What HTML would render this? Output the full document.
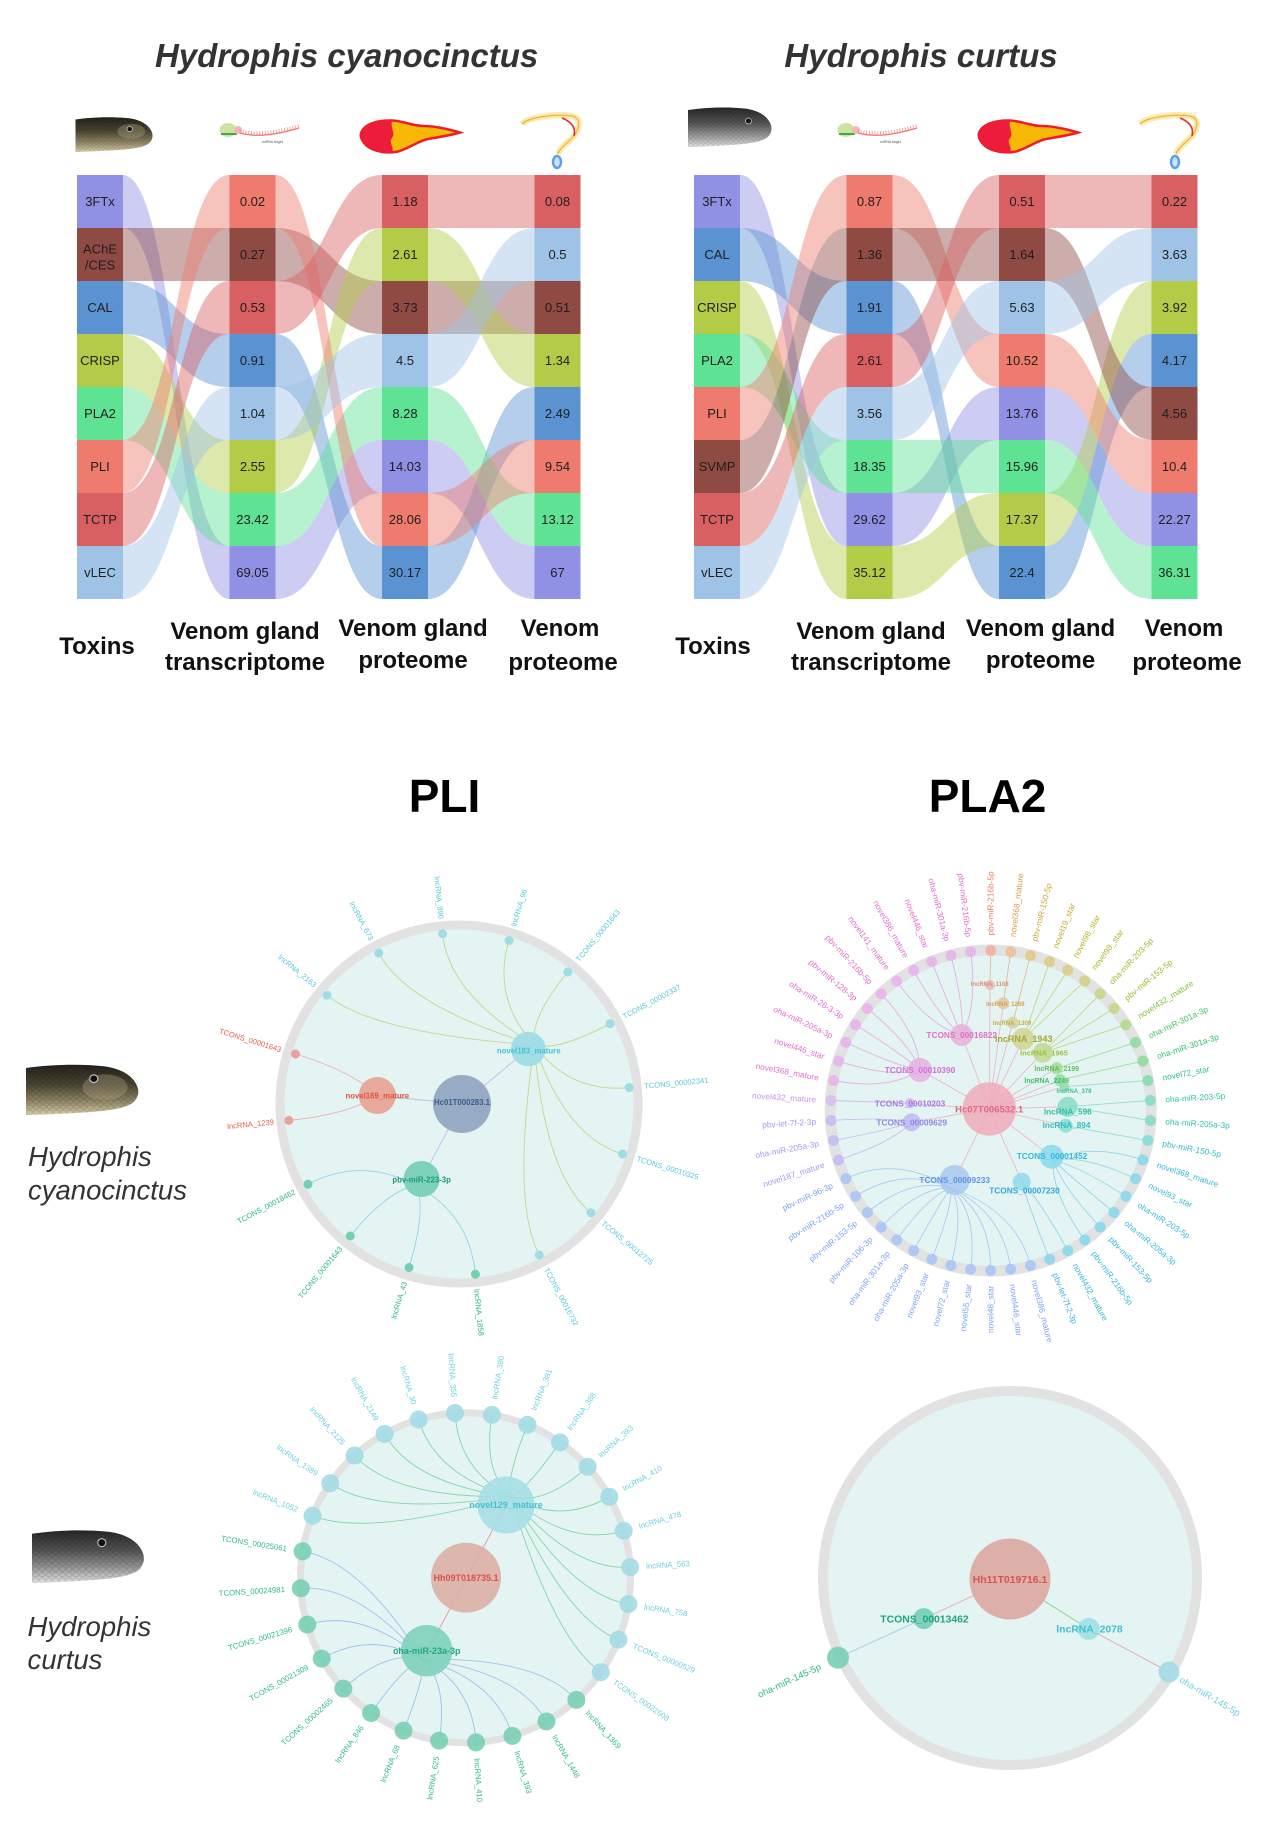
<!DOCTYPE html>
<html><head><meta charset="utf-8">
<style>
html,body{margin:0;padding:0;background:#fff;}
svg{display:block;}
text{font-family:"Liberation Sans",Arial,sans-serif;}
</style></head><body>
<svg width="1268" height="1833" viewBox="0 0 1268 1833" xmlns="http://www.w3.org/2000/svg">
<defs>
<linearGradient id="gb" x1="0" y1="0" x2="0" y2="1"><stop offset="0" stop-color="#23211a"/><stop offset="0.4" stop-color="#4a4532"/><stop offset="0.72" stop-color="#8f8566"/><stop offset="1" stop-color="#d9cfaa"/></linearGradient>
<linearGradient id="gg" x1="0" y1="0" x2="0" y2="1"><stop offset="0" stop-color="#262626"/><stop offset="0.4" stop-color="#555"/><stop offset="0.72" stop-color="#9a9a9a"/><stop offset="1" stop-color="#e2e2e2"/></linearGradient>
<pattern id="sc" width="6" height="5" patternUnits="userSpaceOnUse"><ellipse cx="3" cy="2.5" rx="2.6" ry="2" fill="none" stroke="#000" stroke-opacity="0.22" stroke-width="0.5"/></pattern>
</defs>

<!-- ===== Titles ===== -->
<text x="346.6" y="67" text-anchor="middle" font-size="33" font-weight="bold" font-style="italic" fill="#333">Hydrophis cyanocinctus</text>
<text x="921" y="67" text-anchor="middle" font-size="33" font-weight="bold" font-style="italic" fill="#333">Hydrophis curtus</text>

<!-- ===== Icons left ===== -->
<svg x="75.5" y="115" width="77.5" height="37" viewBox="0 0 100 50" preserveAspectRatio="none">
<path d="M0 6C20 3 45 2 65 4C80 5 92 11 97 20C101 27 100 34 94 39C84 46 60 48 0 50Z" fill="url(#gb)"/>
<path d="M0 6C20 3 45 2 65 4C80 5 92 11 97 20C101 27 100 34 94 39C84 46 60 48 0 50Z" fill="url(#sc)"/>
<ellipse cx="72" cy="22" rx="18" ry="10" fill="#b5a985" opacity="0.35"/>
<circle cx="70" cy="19" r="3.5" fill="#111" stroke="#ccc" stroke-width="1"/>
</svg>
<g id="icons">
<ellipse cx="228" cy="130" rx="8.5" ry="7" fill="#cfe3a0"/>
<rect x="221" y="133" width="16" height="2" fill="#3aa85a"/>
<circle cx="238" cy="130" r="4" fill="#f5b5b5"/>
<path d="M240 133C255 137 272 136 299 128" stroke="#f07070" stroke-width="1.2" fill="none"/>
<path d="M240 131C255 135 272 134 299 126" stroke="#f49090" stroke-width="4" stroke-dasharray="0.8 2" fill="none"/>
<text x="262" y="143" font-size="3.5" fill="#555">miRNA target</text>
<path d="M361 133C364 124 378 120 392 120.5C404 121 412 126 424 126C436 126 448 129 460 132.5C452 135 440 137 428 139C418 141 410 148 398 151.5C386 154 372 151 366 145C362 141 360 137 361 133Z" fill="#f8b808" stroke="#ee1c2c" stroke-width="2.5"/>
<path d="M362 133C365 125 378 121.5 392 121.5C390 128 396 133 392 138C388 143 395 147 392 152C380 152 371 149 367 144.5C363 141 361 137 362 133Z" fill="#ee1c3c"/>
<path d="M522 124C530 116 560 114 572 116C582 118 580 130 572 138C566 144 560 148 558 154" stroke="#fbe9a8" stroke-width="6" fill="none"/>
<path d="M522 124C530 116 560 114 572 116C582 118 580 130 572 138C566 144 560 148 558 154" stroke="#f0b040" stroke-width="1.2" fill="none"/>
<path d="M562 118C572 122 576 128 574 136" stroke="#e83030" stroke-width="1.6" fill="none"/>
<ellipse cx="557" cy="162" rx="4" ry="6" fill="#cfe2fb" stroke="#5aa0f0" stroke-width="2.5"/>
</g>
<!-- Icons right -->
<svg x="688" y="105" width="84" height="42" viewBox="0 0 100 50" preserveAspectRatio="none">
<path d="M0 6C20 3 45 2 65 4C80 5 92 11 97 20C101 27 100 34 94 39C84 46 60 48 0 50Z" fill="url(#gg)"/>
<path d="M0 6C20 3 45 2 65 4C80 5 92 11 97 20C101 27 100 34 94 39C84 46 60 48 0 50Z" fill="url(#sc)"/>
<circle cx="72" cy="19" r="3.5" fill="#111" stroke="#bbb" stroke-width="1"/>
</svg>
<use href="#icons" transform="translate(618 0)"/>

<!-- ===== Alluvial left: ribbons ===== -->
<g fill-opacity="0.45">
<path fill="#9090e4" d="M122.5 175C176 175 176 546 229.5 546V599C176 599 176 228 122.5 228Z"/>
<path fill="#8f4a44" d="M122.5 228H229.5V281H122.5Z"/>
<path fill="#5b93d2" d="M122.5 281C176 281 176 334 229.5 334V387C176 387 176 334 122.5 334Z"/>
<path fill="#b2cc48" d="M122.5 334C176 334 176 440 229.5 440V493C176 493 176 387 122.5 387Z"/>
<path fill="#5ee394" d="M122.5 387C176 387 176 493 229.5 493V546C176 546 176 440 122.5 440Z"/>
<path fill="#ee7b6d" d="M122.5 440C176 440 176 175 229.5 175V228C176 228 176 493 122.5 493Z"/>
<path fill="#d96062" d="M122.5 493C176 493 176 281 229.5 281V334C176 334 176 546 122.5 546Z"/>
<path fill="#9fc3e6" d="M122.5 546C176 546 176 387 229.5 387V440C176 440 176 599 122.5 599Z"/>

<path fill="#9090e4" d="M275.5 546C329 546 329 440 382 440V493C329 493 329 599 275.5 599Z"/>
<path fill="#8f4a44" d="M275.5 228C329 228 329 281 382 281V334C329 334 329 281 275.5 281Z"/>
<path fill="#5b93d2" d="M275.5 334C329 334 329 546 382 546V599C329 599 329 387 275.5 387Z"/>
<path fill="#b2cc48" d="M275.5 440C329 440 329 228 382 228V281C329 281 329 493 275.5 493Z"/>
<path fill="#5ee394" d="M275.5 493C329 493 329 387 382 387V440C329 440 329 546 275.5 546Z"/>
<path fill="#ee7b6d" d="M275.5 175C329 175 329 493 382 493V546C329 546 329 228 275.5 228Z"/>
<path fill="#d96062" d="M275.5 281C329 281 329 175 382 175V228C329 228 329 334 275.5 334Z"/>
<path fill="#9fc3e6" d="M275.5 387C329 387 329 334 382 334V387C329 387 329 440 275.5 440Z"/>

<path fill="#9090e4" d="M428 440C481 440 481 546 534.5 546V599C481 599 481 493 428 493Z"/>
<path fill="#8f4a44" d="M428 281H534.5V334H428Z"/>
<path fill="#5b93d2" d="M428 546C481 546 481 387 534.5 387V440C481 440 481 599 428 599Z"/>
<path fill="#b2cc48" d="M428 228C481 228 481 334 534.5 334V387C481 387 481 281 428 281Z"/>
<path fill="#5ee394" d="M428 387C481 387 481 493 534.5 493V546C481 546 481 440 428 440Z"/>
<path fill="#ee7b6d" d="M428 493C481 493 481 440 534.5 440V493C481 493 481 546 428 546Z"/>
<path fill="#d96062" d="M428 175H534.5V228H428Z"/>
<path fill="#9fc3e6" d="M428 334C481 334 481 228 534.5 228V281C481 281 481 387 428 387Z"/>
</g>

<!-- Alluvial right: ribbons -->
<g fill-opacity="0.45">
<path fill="#9090e4" d="M740 175C793 175 793 493 846.5 493V546C793 546 793 228 740 228Z"/>
<path fill="#5b93d2" d="M740 228C793 228 793 281 846.5 281V334C793 334 793 281 740 281Z"/>
<path fill="#b2cc48" d="M740 281C793 281 793 546 846.5 546V599C793 599 793 334 740 334Z"/>
<path fill="#5ee394" d="M740 334C793 334 793 440 846.5 440V493C793 493 793 387 740 387Z"/>
<path fill="#ee7b6d" d="M740 387C793 387 793 175 846.5 175V228C793 228 793 440 740 440Z"/>
<path fill="#8f4a44" d="M740 440C793 440 793 228 846.5 228V281C793 281 793 493 740 493Z"/>
<path fill="#d96062" d="M740 493C793 493 793 334 846.5 334V387C793 387 793 546 740 546Z"/>
<path fill="#9fc3e6" d="M740 546C793 546 793 387 846.5 387V440C793 440 793 599 740 599Z"/>

<path fill="#9090e4" d="M892.5 493C946 493 946 387 999 387V440C946 440 946 546 892.5 546Z"/>
<path fill="#5b93d2" d="M892.5 281C946 281 946 546 999 546V599C946 599 946 334 892.5 334Z"/>
<path fill="#b2cc48" d="M892.5 546C946 546 946 493 999 493V546C946 546 946 599 892.5 599Z"/>
<path fill="#5ee394" d="M892.5 440H999V493H892.5Z"/>
<path fill="#ee7b6d" d="M892.5 175C946 175 946 334 999 334V387C946 387 946 228 892.5 228Z"/>
<path fill="#8f4a44" d="M892.5 228H999V281H892.5Z"/>
<path fill="#d96062" d="M892.5 334C946 334 946 175 999 175V228C946 228 946 387 892.5 387Z"/>
<path fill="#9fc3e6" d="M892.5 387C946 387 946 281 999 281V334C946 334 946 440 892.5 440Z"/>

<path fill="#9090e4" d="M1045 387C1098 387 1098 493 1151.5 493V546C1098 546 1098 440 1045 440Z"/>
<path fill="#5b93d2" d="M1045 546C1098 546 1098 334 1151.5 334V387C1098 387 1098 599 1045 599Z"/>
<path fill="#b2cc48" d="M1045 493C1098 493 1098 281 1151.5 281V334C1098 334 1098 546 1045 546Z"/>
<path fill="#5ee394" d="M1045 440C1098 440 1098 546 1151.5 546V599C1098 599 1098 493 1045 493Z"/>
<path fill="#ee7b6d" d="M1045 334C1098 334 1098 440 1151.5 440V493C1098 493 1098 387 1045 387Z"/>
<path fill="#8f4a44" d="M1045 228C1098 228 1098 387 1151.5 387V440C1098 440 1098 281 1045 281Z"/>
<path fill="#d96062" d="M1045 175H1151.5V228H1045Z"/>
<path fill="#9fc3e6" d="M1045 281C1098 281 1098 228 1151.5 228V281C1098 281 1098 334 1045 334Z"/>
</g>

<!-- Alluvial boxes left -->
<g>
<rect x="77" y="175" width="46" height="53" fill="#9090e4"/><rect x="77" y="228" width="46" height="53" fill="#8f4a44"/><rect x="77" y="281" width="46" height="53" fill="#5b93d2"/><rect x="77" y="334" width="46" height="53" fill="#b2cc48"/><rect x="77" y="387" width="46" height="53" fill="#5ee394"/><rect x="77" y="440" width="46" height="53" fill="#ee7b6d"/><rect x="77" y="493" width="46" height="53" fill="#d96062"/><rect x="77" y="546" width="46" height="53" fill="#9fc3e6"/>
<rect x="229.5" y="175" width="46" height="53" fill="#ee7b6d"/><rect x="229.5" y="228" width="46" height="53" fill="#8f4a44"/><rect x="229.5" y="281" width="46" height="53" fill="#d96062"/><rect x="229.5" y="334" width="46" height="53" fill="#5b93d2"/><rect x="229.5" y="387" width="46" height="53" fill="#9fc3e6"/><rect x="229.5" y="440" width="46" height="53" fill="#b2cc48"/><rect x="229.5" y="493" width="46" height="53" fill="#5ee394"/><rect x="229.5" y="546" width="46" height="53" fill="#9090e4"/>
<rect x="382" y="175" width="46" height="53" fill="#d96062"/><rect x="382" y="228" width="46" height="53" fill="#b2cc48"/><rect x="382" y="281" width="46" height="53" fill="#8f4a44"/><rect x="382" y="334" width="46" height="53" fill="#9fc3e6"/><rect x="382" y="387" width="46" height="53" fill="#5ee394"/><rect x="382" y="440" width="46" height="53" fill="#9090e4"/><rect x="382" y="493" width="46" height="53" fill="#ee7b6d"/><rect x="382" y="546" width="46" height="53" fill="#5b93d2"/>
<rect x="534.5" y="175" width="46" height="53" fill="#d96062"/><rect x="534.5" y="228" width="46" height="53" fill="#9fc3e6"/><rect x="534.5" y="281" width="46" height="53" fill="#8f4a44"/><rect x="534.5" y="334" width="46" height="53" fill="#b2cc48"/><rect x="534.5" y="387" width="46" height="53" fill="#5b93d2"/><rect x="534.5" y="440" width="46" height="53" fill="#ee7b6d"/><rect x="534.5" y="493" width="46" height="53" fill="#5ee394"/><rect x="534.5" y="546" width="46" height="53" fill="#9090e4"/>
</g>
<!-- Alluvial boxes right -->
<g>
<rect x="694" y="175" width="46" height="53" fill="#9090e4"/><rect x="694" y="228" width="46" height="53" fill="#5b93d2"/><rect x="694" y="281" width="46" height="53" fill="#b2cc48"/><rect x="694" y="334" width="46" height="53" fill="#5ee394"/><rect x="694" y="387" width="46" height="53" fill="#ee7b6d"/><rect x="694" y="440" width="46" height="53" fill="#8f4a44"/><rect x="694" y="493" width="46" height="53" fill="#d96062"/><rect x="694" y="546" width="46" height="53" fill="#9fc3e6"/>
<rect x="846.5" y="175" width="46" height="53" fill="#ee7b6d"/><rect x="846.5" y="228" width="46" height="53" fill="#8f4a44"/><rect x="846.5" y="281" width="46" height="53" fill="#5b93d2"/><rect x="846.5" y="334" width="46" height="53" fill="#d96062"/><rect x="846.5" y="387" width="46" height="53" fill="#9fc3e6"/><rect x="846.5" y="440" width="46" height="53" fill="#5ee394"/><rect x="846.5" y="493" width="46" height="53" fill="#9090e4"/><rect x="846.5" y="546" width="46" height="53" fill="#b2cc48"/>
<rect x="999" y="175" width="46" height="53" fill="#d96062"/><rect x="999" y="228" width="46" height="53" fill="#8f4a44"/><rect x="999" y="281" width="46" height="53" fill="#9fc3e6"/><rect x="999" y="334" width="46" height="53" fill="#ee7b6d"/><rect x="999" y="387" width="46" height="53" fill="#9090e4"/><rect x="999" y="440" width="46" height="53" fill="#5ee394"/><rect x="999" y="493" width="46" height="53" fill="#b2cc48"/><rect x="999" y="546" width="46" height="53" fill="#5b93d2"/>
<rect x="1151.5" y="175" width="46" height="53" fill="#d96062"/><rect x="1151.5" y="228" width="46" height="53" fill="#9fc3e6"/><rect x="1151.5" y="281" width="46" height="53" fill="#b2cc48"/><rect x="1151.5" y="334" width="46" height="53" fill="#5b93d2"/><rect x="1151.5" y="387" width="46" height="53" fill="#8f4a44"/><rect x="1151.5" y="440" width="46" height="53" fill="#ee7b6d"/><rect x="1151.5" y="493" width="46" height="53" fill="#9090e4"/><rect x="1151.5" y="546" width="46" height="53" fill="#5ee394"/>
</g>

<!-- Box texts -->
<g font-size="13" fill="#1e1e1e" text-anchor="middle">
<text x="100" y="206">3FTx</text><text x="100" y="253.5">AChE</text><text x="100" y="269.5">/CES</text><text x="100" y="312">CAL</text><text x="100" y="365">CRISP</text><text x="100" y="418">PLA2</text><text x="100" y="471">PLI</text><text x="100" y="524">TCTP</text><text x="100" y="577">vLEC</text>
<text x="252.5" y="206">0.02</text><text x="252.5" y="259">0.27</text><text x="252.5" y="312">0.53</text><text x="252.5" y="365">0.91</text><text x="252.5" y="418">1.04</text><text x="252.5" y="471">2.55</text><text x="252.5" y="524">23.42</text><text x="252.5" y="577">69.05</text>
<text x="405" y="206">1.18</text><text x="405" y="259">2.61</text><text x="405" y="312">3.73</text><text x="405" y="365">4.5</text><text x="405" y="418">8.28</text><text x="405" y="471">14.03</text><text x="405" y="524">28.06</text><text x="405" y="577">30.17</text>
<text x="557.5" y="206">0.08</text><text x="557.5" y="259">0.5</text><text x="557.5" y="312">0.51</text><text x="557.5" y="365">1.34</text><text x="557.5" y="418">2.49</text><text x="557.5" y="471">9.54</text><text x="557.5" y="524">13.12</text><text x="557.5" y="577">67</text>
<text x="717" y="206">3FTx</text><text x="717" y="259">CAL</text><text x="717" y="312">CRISP</text><text x="717" y="365">PLA2</text><text x="717" y="418">PLI</text><text x="717" y="471">SVMP</text><text x="717" y="524">TCTP</text><text x="717" y="577">vLEC</text>
<text x="869.5" y="206">0.87</text><text x="869.5" y="259">1.36</text><text x="869.5" y="312">1.91</text><text x="869.5" y="365">2.61</text><text x="869.5" y="418">3.56</text><text x="869.5" y="471">18.35</text><text x="869.5" y="524">29.62</text><text x="869.5" y="577">35.12</text>
<text x="1022" y="206">0.51</text><text x="1022" y="259">1.64</text><text x="1022" y="312">5.63</text><text x="1022" y="365">10.52</text><text x="1022" y="418">13.76</text><text x="1022" y="471">15.96</text><text x="1022" y="524">17.37</text><text x="1022" y="577">22.4</text>
<text x="1174.5" y="206">0.22</text><text x="1174.5" y="259">3.63</text><text x="1174.5" y="312">3.92</text><text x="1174.5" y="365">4.17</text><text x="1174.5" y="418">4.56</text><text x="1174.5" y="471">10.4</text><text x="1174.5" y="524">22.27</text><text x="1174.5" y="577">36.31</text>
</g>

<!-- Column labels -->
<g font-size="24" font-weight="bold" fill="#111" text-anchor="middle">
<text x="97" y="654">Toxins</text>
<text x="245" y="639">Venom gland</text><text x="245" y="670">transcriptome</text>
<text x="413" y="636">Venom gland</text><text x="413" y="668">proteome</text>
<text x="560" y="636">Venom</text><text x="563" y="670">proteome</text>
<text x="713" y="654">Toxins</text>
<text x="871" y="639">Venom gland</text><text x="871" y="670">transcriptome</text>
<text x="1040.5" y="636">Venom gland</text><text x="1040.5" y="668">proteome</text>
<text x="1184" y="636">Venom</text><text x="1187" y="670">proteome</text>
</g>

<!-- ===== Network headings ===== -->
<text x="444.5" y="811.8" text-anchor="middle" font-size="46" font-weight="bold" fill="#000">PLI</text>
<text x="987.5" y="811.8" text-anchor="middle" font-size="46" font-weight="bold" fill="#000">PLA2</text>

<!-- Species labels -->
<svg x="26" y="1061.6" width="113" height="53.4" viewBox="0 0 100 50" preserveAspectRatio="none">
<path d="M0 6C20 3 45 2 65 4C80 5 92 11 97 20C101 27 100 34 94 39C84 46 60 48 0 50Z" fill="url(#gb)"/>
<path d="M0 6C20 3 45 2 65 4C80 5 92 11 97 20C101 27 100 34 94 39C84 46 60 48 0 50Z" fill="url(#sc)"/>
<ellipse cx="70" cy="24" rx="20" ry="12" fill="#b5a985" opacity="0.35"/>
<circle cx="60" cy="16" r="3.6" fill="#111" stroke="#ccc" stroke-width="1"/>
</svg>
<text x="28" y="1166" font-size="27.5" font-style="italic" fill="#333">Hydrophis</text>
<text x="28" y="1199.6" font-size="27.5" font-style="italic" fill="#333">cyanocinctus</text>
<svg x="32" y="1527" width="112.6" height="56" viewBox="0 0 100 50" preserveAspectRatio="none">
<path d="M0 6C20 3 45 2 65 4C80 5 92 11 97 20C101 27 100 34 94 39C84 46 60 48 0 50Z" fill="url(#gg)"/>
<path d="M0 6C20 3 45 2 65 4C80 5 92 11 97 20C101 27 100 34 94 39C84 46 60 48 0 50Z" fill="url(#sc)"/>
<circle cx="62" cy="14" r="3.6" fill="#111" stroke="#bbb" stroke-width="1"/>
</svg>
<text x="27.5" y="1636" font-size="27.5" font-style="italic" fill="#333">Hydrophis</text>
<text x="27.5" y="1669" font-size="27.5" font-style="italic" fill="#333">curtus</text>

<!-- ===== PLI cyanocinctus network ===== -->
<circle cx="459" cy="1104" r="179" fill="#e4f4f2" stroke="#e2e2e2" stroke-width="9"/>
<g fill="none" stroke-width="0.9" opacity="0.85">
<g stroke="#b4d67e">
<path d="M534.3 1045Q373.2 1033.3 327 995.2"/><path d="M534.3 1045Q406.8 1005.9 378.7 953"/><path d="M534.3 1045Q448.4 993.4 442.6 933.8"/><path d="M534.3 1045Q491.5 997.7 509 940.5"/><path d="M534.3 1045Q529.7 1018.2 567.8 972"/><path d="M534.3 1045Q557.1 1051.8 610 1023.7"/><path d="M534.3 1045Q569.6 1093.4 629.2 1087.6"/><path d="M534.3 1045Q565.3 1136.5 622.5 1154"/><path d="M534.3 1045Q544.8 1174.7 591 1212.8"/><path d="M534.3 1045Q511.2 1202.1 539.3 1255"/>
</g>
<g stroke="#86cfe6">
<path d="M416.4 1185.5Q469.6 1214.6 475.4 1274.2"/><path d="M416.4 1185.5Q426.5 1210.3 409 1267.5"/><path d="M416.4 1185.5Q388.3 1189.8 350.2 1236"/><path d="M416.4 1185.5Q360.9 1156.2 308 1184.3"/>
</g>
<g stroke="#eaa5a5">
<path d="M377.3 1095.5Q348.4 1114.6 288.8 1120.4"/><path d="M377.3 1095.5Q352.7 1071.5 295.5 1054"/>
</g>
<g stroke="#b9b3f0"><path d="M462 1104L377.3 1095.5M462 1104L528.3 1049M462 1104L421.6 1179"/></g>
</g>
<g>
<circle cx="462" cy="1104" r="29" fill="#97abc5"/>
<circle cx="377.3" cy="1095.5" r="18.5" fill="#e8a99d"/>
<circle cx="528.3" cy="1049" r="17.3" fill="#a3dde5"/>
<circle cx="421.6" cy="1179" r="18" fill="#7ed2bb"/>
</g>
<g fill="#9fdde6">
<circle cx="630" cy="1104" r="4.5" transform="rotate(17 459 1104)"/><circle cx="630" cy="1104" r="4.5" transform="rotate(39.5 459 1104)"/><circle cx="630" cy="1104" r="4.5" transform="rotate(62 459 1104)"/><circle cx="630" cy="1104" r="4.5" transform="rotate(219.5 459 1104)"/><circle cx="630" cy="1104" r="4.5" transform="rotate(242 459 1104)"/><circle cx="630" cy="1104" r="4.5" transform="rotate(264.5 459 1104)"/><circle cx="630" cy="1104" r="4.5" transform="rotate(287 459 1104)"/><circle cx="630" cy="1104" r="4.5" transform="rotate(309.5 459 1104)"/><circle cx="630" cy="1104" r="4.5" transform="rotate(332 459 1104)"/><circle cx="630" cy="1104" r="4.5" transform="rotate(354.5 459 1104)"/>
</g>
<g fill="#74cfb4">
<circle cx="630" cy="1104" r="4.5" transform="rotate(84.5 459 1104)"/><circle cx="630" cy="1104" r="4.5" transform="rotate(107 459 1104)"/><circle cx="630" cy="1104" r="4.5" transform="rotate(129.5 459 1104)"/><circle cx="630" cy="1104" r="4.5" transform="rotate(152 459 1104)"/>
</g>
<g fill="#e6a49b">
<circle cx="630" cy="1104" r="4.5" transform="rotate(174.5 459 1104)"/><circle cx="630" cy="1104" r="4.5" transform="rotate(197 459 1104)"/>
</g>
<g font-size="7.6">
<g fill="#59c6dc">
<text x="186" y="2.7" transform="translate(459 1104) rotate(17)">TCONS_00010325</text>
<text x="186" y="2.7" transform="translate(459 1104) rotate(39.5)">TCONS_00012725</text>
<text x="186" y="2.7" transform="translate(459 1104) rotate(62)">TCONS_00016732</text>
<text x="-186" y="2.7" text-anchor="end" transform="translate(459 1104) rotate(39.5)">lncRNA_2163</text>
<text x="-186" y="2.7" text-anchor="end" transform="translate(459 1104) rotate(62)">lncRNA_673</text>
<text x="-186" y="2.7" text-anchor="end" transform="translate(459 1104) rotate(84.5)">lncRNA_890</text>
<text x="186" y="2.7" transform="translate(459 1104) rotate(-73)">lncRNA_96</text>
<text x="186" y="2.7" transform="translate(459 1104) rotate(-50.5)">TCONS_00001643</text>
<text x="186" y="2.7" transform="translate(459 1104) rotate(-28)">TCONS_00002337</text>
<text x="186" y="2.7" transform="translate(459 1104) rotate(-5.5)">TCONS_00002341</text>
</g>
<g fill="#2db48c">
<text x="186" y="2.7" transform="translate(459 1104) rotate(84.5)">lncRNA_1858</text>
<text x="-186" y="2.7" text-anchor="end" transform="translate(459 1104) rotate(-73)">lncRNA_43</text>
<text x="-186" y="2.7" text-anchor="end" transform="translate(459 1104) rotate(-50.5)">TCONS_00001643</text>
<text x="-186" y="2.7" text-anchor="end" transform="translate(459 1104) rotate(-28)">TCONS_00018462</text>
</g>
<g fill="#e8604c">
<text x="-186" y="2.7" text-anchor="end" transform="translate(459 1104) rotate(-5.5)">lncRNA_1239</text>
<text x="-186" y="2.7" text-anchor="end" transform="translate(459 1104) rotate(17)">TCONS_00001643</text>
</g>
</g>
<g font-size="7.8" font-weight="bold" text-anchor="middle">
<text x="462" y="1105" fill="#3b5b8a">Hc01T000283.1</text>
<text x="377.3" y="1098.6" fill="#e0523c">novel169_mature</text>
<text x="528.7" y="1053.3" fill="#45c2d6">novel183_mature</text>
<text x="421.6" y="1182.6" fill="#1a9a78">pbv-miR-223-3p</text>
</g>

<!-- ===== PLA2 cyanocinctus network ===== -->
<circle cx="990.7" cy="1110.5" r="160.5" fill="#e4f4f2" stroke="#e2e2e2" stroke-width="11"/>
<g fill="none" stroke-width="0.9" opacity="0.8">
<g stroke="#f0a8c0">
<path d="M989.3 1109L961.7 1035M989.3 1109L920 1070M989.3 1109L910 1103.3M989.3 1109L911.7 1122.3M989.3 1109L954.7 1180M989.3 1109L1021.7 1181.7M989.3 1109L1051.7 1156.7M989.3 1109L1065.7 1125.7M989.3 1109L1067.7 1106.7M989.3 1109L1064.3 1086.7M989.3 1109L1060 1080M989.3 1109L1056.7 1068.3M989.3 1109L1042.7 1052.7M989.3 1109L1023.3 1039M989.3 1109L1012.7 1022.7M989.3 1109L1003.3 1003.3M989.3 1109L990 985"/>
</g>
<g stroke="#e6a0dc">
<path d="M961.7 1035Q929.6 1026.4 896.6 981.1"/><path d="M961.7 1035Q940.6 1019.4 913.6 970.3"/><path d="M961.7 1035Q952.4 1013.8 931.8 961.7"/><path d="M961.7 1035Q964.8 1009.8 950.9 955.5"/><path d="M961.7 1035Q977.7 1007.3 970.7 951.8"/>
<path d="M920 1070Q888.5 1091 833.5 1080.5"/><path d="M920 1070Q891.8 1078.4 838.5 1061.1"/><path d="M920 1070Q896.6 1066.2 845.9 1042.4"/><path d="M920 1070Q902.9 1054.8 855.6 1024.8"/><path d="M920 1070Q910.6 1044.2 867.4 1008.5"/><path d="M920 1070Q919.5 1034.7 881.2 993.9"/>
</g>
<g stroke="#c8b0ee"><path d="M910 1103.3L831 1100.5"/><path d="M911.7 1122.3Q891.8 1142.6 838.5 1159.9"/><path d="M911.7 1122.3Q888.5 1130 833.5 1140.5"/><path d="M911.7 1122.3Q886.9 1117 831 1120.5"/></g>
<g stroke="#9cc0f0">
<path d="M951 1188Q1016.6 1211.2 1030.5 1265.5"/><path d="M951 1188Q1003.7 1213.7 1010.7 1269.2"/><path d="M951 1188Q990.7 1214.5 990.7 1270.5"/><path d="M951 1188Q977.7 1213.7 970.7 1269.2"/><path d="M951 1188Q964.8 1211.2 950.9 1265.5"/><path d="M951 1188Q952.4 1207.2 931.8 1259.3"/><path d="M951 1188Q940.6 1201.6 913.6 1250.7"/><path d="M951 1188Q929.6 1194.6 896.6 1239.9"/><path d="M951 1188Q919.5 1186.3 881.2 1227.1"/><path d="M951 1188Q910.6 1176.8 867.4 1212.5"/><path d="M951 1188Q902.9 1166.2 855.6 1196.2"/><path d="M951 1188Q896.6 1154.8 845.9 1178.6"/>
</g>
<g stroke="#80d0e8">
<path d="M1021.7 1181.7Q1040.8 1201.6 1067.8 1250.7"/><path d="M1021.7 1181.7Q1029 1207.2 1049.6 1259.3"/>
<path d="M1053 1160Q1089.6 1142.6 1142.9 1159.9"/><path d="M1053 1160Q1084.8 1154.8 1135.5 1178.6"/><path d="M1053 1160Q1078.5 1166.2 1125.8 1196.2"/><path d="M1053 1160Q1070.8 1176.8 1114 1212.5"/><path d="M1053 1160Q1061.9 1186.3 1100.2 1227.1"/><path d="M1053 1160Q1051.8 1194.6 1084.8 1239.9"/>
</g>
<g stroke="#80d8c8"><path d="M1065.7 1125.7L1147.9 1140.5M1067.7 1106.7L1150.4 1100.5M1067.7 1106.7L1150.4 1120.5M1064.3 1086.7L1147.9 1080.5"/></g>
<g stroke="#98d890"><path d="M1060 1080L1142.9 1061.1M1056.7 1068.3L1135.5 1042.4"/></g>
<g stroke="#c0d070"><path d="M1042.7 1052.7L1100.2 993.9M1042.7 1052.7L1114 1008.5M1042.7 1052.7L1125.8 1024.8M1023.3 1039L1049.6 961.7M1023.3 1039L1067.8 970.3M1023.3 1039L1084.8 981.1"/></g>
<g stroke="#e0b080"><path d="M1012.7 1022.7L1030.5 955.5M1003.3 1003.3L1010.7 951.8M990 985L990.7 950.5"/></g>
</g>
<!-- PLA2 ring nodes -->
<g>
<circle cx="1150.7" cy="1110.5" r="5.5" fill="#f0b4a8" transform="rotate(-90 990.7 1110.5)"/>
<circle cx="1150.7" cy="1110.5" r="5.5" fill="#ecc4a0" transform="rotate(-82.8 990.7 1110.5)"/>
<circle cx="1150.7" cy="1110.5" r="5.5" fill="#e4cc90" transform="rotate(-75.6 990.7 1110.5)"/>
<circle cx="1150.7" cy="1110.5" r="5.5" fill="#dcd090" transform="rotate(-68.4 990.7 1110.5)"/>
<circle cx="1150.7" cy="1110.5" r="5.5" fill="#dcd090" transform="rotate(-61.2 990.7 1110.5)"/>
<circle cx="1150.7" cy="1110.5" r="5.5" fill="#d4d490" transform="rotate(-54 990.7 1110.5)"/>
<circle cx="1150.7" cy="1110.5" r="5.5" fill="#ccd890" transform="rotate(-46.8 990.7 1110.5)"/>
<circle cx="1150.7" cy="1110.5" r="5.5" fill="#ccd890" transform="rotate(-39.6 990.7 1110.5)"/>
<circle cx="1150.7" cy="1110.5" r="5.5" fill="#b8dc98" transform="rotate(-32.4 990.7 1110.5)"/>
<circle cx="1150.7" cy="1110.5" r="5.5" fill="#98dca8" transform="rotate(-25.2 990.7 1110.5)"/>
<circle cx="1150.7" cy="1110.5" r="5.5" fill="#98dca8" transform="rotate(-18 990.7 1110.5)"/>
<circle cx="1150.7" cy="1110.5" r="5.5" fill="#90dcb8" transform="rotate(-10.8 990.7 1110.5)"/>
<circle cx="1150.7" cy="1110.5" r="5.5" fill="#90dcc8" transform="rotate(-3.6 990.7 1110.5)"/>
<circle cx="1150.7" cy="1110.5" r="5.5" fill="#90dcc8" transform="rotate(3.6 990.7 1110.5)"/>
<circle cx="1150.7" cy="1110.5" r="5.5" fill="#90dcd8" transform="rotate(10.8 990.7 1110.5)"/>
<g fill="#94d8ec">
<circle cx="1150.7" cy="1110.5" r="5.5" transform="rotate(18 990.7 1110.5)"/><circle cx="1150.7" cy="1110.5" r="5.5" transform="rotate(25.2 990.7 1110.5)"/><circle cx="1150.7" cy="1110.5" r="5.5" transform="rotate(32.4 990.7 1110.5)"/><circle cx="1150.7" cy="1110.5" r="5.5" transform="rotate(39.6 990.7 1110.5)"/><circle cx="1150.7" cy="1110.5" r="5.5" transform="rotate(46.8 990.7 1110.5)"/><circle cx="1150.7" cy="1110.5" r="5.5" transform="rotate(54 990.7 1110.5)"/><circle cx="1150.7" cy="1110.5" r="5.5" transform="rotate(61.2 990.7 1110.5)"/><circle cx="1150.7" cy="1110.5" r="5.5" transform="rotate(68.4 990.7 1110.5)"/>
</g>
<g fill="#b0c8f4">
<circle cx="1150.7" cy="1110.5" r="5.5" transform="rotate(75.6 990.7 1110.5)"/><circle cx="1150.7" cy="1110.5" r="5.5" transform="rotate(82.8 990.7 1110.5)"/><circle cx="1150.7" cy="1110.5" r="5.5" transform="rotate(90 990.7 1110.5)"/><circle cx="1150.7" cy="1110.5" r="5.5" transform="rotate(97.2 990.7 1110.5)"/><circle cx="1150.7" cy="1110.5" r="5.5" transform="rotate(104.4 990.7 1110.5)"/><circle cx="1150.7" cy="1110.5" r="5.5" transform="rotate(111.6 990.7 1110.5)"/><circle cx="1150.7" cy="1110.5" r="5.5" transform="rotate(118.8 990.7 1110.5)"/><circle cx="1150.7" cy="1110.5" r="5.5" transform="rotate(126 990.7 1110.5)"/><circle cx="1150.7" cy="1110.5" r="5.5" transform="rotate(133.2 990.7 1110.5)"/><circle cx="1150.7" cy="1110.5" r="5.5" transform="rotate(140.4 990.7 1110.5)"/><circle cx="1150.7" cy="1110.5" r="5.5" transform="rotate(147.6 990.7 1110.5)"/><circle cx="1150.7" cy="1110.5" r="5.5" transform="rotate(154.8 990.7 1110.5)"/>
</g>
<g fill="#c8c0f4">
<circle cx="1150.7" cy="1110.5" r="5.5" transform="rotate(162 990.7 1110.5)"/><circle cx="1150.7" cy="1110.5" r="5.5" transform="rotate(169.2 990.7 1110.5)"/><circle cx="1150.7" cy="1110.5" r="5.5" transform="rotate(176.4 990.7 1110.5)"/>
</g>
<circle cx="1150.7" cy="1110.5" r="5.5" fill="#dcc0f0" transform="rotate(183.6 990.7 1110.5)"/>
<g fill="#e8b8ec">
<circle cx="1150.7" cy="1110.5" r="5.5" transform="rotate(190.8 990.7 1110.5)"/><circle cx="1150.7" cy="1110.5" r="5.5" transform="rotate(198 990.7 1110.5)"/><circle cx="1150.7" cy="1110.5" r="5.5" transform="rotate(205.2 990.7 1110.5)"/><circle cx="1150.7" cy="1110.5" r="5.5" transform="rotate(212.4 990.7 1110.5)"/><circle cx="1150.7" cy="1110.5" r="5.5" transform="rotate(219.6 990.7 1110.5)"/><circle cx="1150.7" cy="1110.5" r="5.5" transform="rotate(226.8 990.7 1110.5)"/><circle cx="1150.7" cy="1110.5" r="5.5" transform="rotate(234 990.7 1110.5)"/><circle cx="1150.7" cy="1110.5" r="5.5" transform="rotate(241.2 990.7 1110.5)"/><circle cx="1150.7" cy="1110.5" r="5.5" transform="rotate(248.4 990.7 1110.5)"/><circle cx="1150.7" cy="1110.5" r="5.5" transform="rotate(255.6 990.7 1110.5)"/><circle cx="1150.7" cy="1110.5" r="5.5" transform="rotate(262.8 990.7 1110.5)"/>
</g>
</g>
<!-- PLA2 inner nodes -->
<g fill-opacity="0.85">
<circle cx="989.3" cy="1109" r="26.7" fill="#f0aabb"/>
<circle cx="961.7" cy="1035" r="11" fill="#e8b0dc"/>
<circle cx="920" cy="1070" r="12" fill="#e4b0e4"/>
<circle cx="910" cy="1103.3" r="5" fill="#d0b0ec"/>
<circle cx="911.7" cy="1122.3" r="9" fill="#c0b8f0"/>
<circle cx="954.7" cy="1180" r="15" fill="#a8c8f0"/>
<circle cx="1021.7" cy="1181.7" r="9" fill="#90d8ec"/>
<circle cx="1051.7" cy="1156.7" r="12" fill="#88d8ec"/>
<circle cx="1065.7" cy="1125.7" r="7" fill="#88dcd8"/>
<circle cx="1067.7" cy="1106.7" r="10" fill="#88dcc8"/>
<circle cx="1064.3" cy="1086.7" r="5" fill="#90dcb0"/>
<circle cx="1060" cy="1080" r="6" fill="#90dca0"/>
<circle cx="1056.7" cy="1068.3" r="6" fill="#a0dc90"/>
<circle cx="1042.7" cy="1052.7" r="10" fill="#c0d890"/>
<circle cx="1023.3" cy="1039" r="11" fill="#d0d498"/>
<circle cx="1012.7" cy="1022.7" r="6" fill="#d8d0a0"/>
<circle cx="1003.3" cy="1003.3" r="6" fill="#e0c8a0"/>
<circle cx="990" cy="985" r="5" fill="#e8b8b0"/>
</g>
<g font-weight="bold" text-anchor="middle">
<text x="989.2" y="1112.4" font-size="9.5" fill="#e06888">Hc07T006532.1</text>
<text x="961.7" y="1038" font-size="8.3" fill="#e070c0">TCONS_00016822</text>
<text x="920" y="1073" font-size="8.3" fill="#d070d8">TCONS_00010390</text>
<text x="910" y="1106.3" font-size="8.3" fill="#a878e0">TCONS_00010203</text>
<text x="911.7" y="1125.3" font-size="8.3" fill="#9088e8">TCONS_00009629</text>
<text x="954.7" y="1183" font-size="8.3" fill="#5c94e8">TCONS_00009233</text>
<text x="1024.5" y="1193.7" font-size="8.3" fill="#30a8e0">TCONS_00007230</text>
<text x="1052" y="1159" font-size="8.3" fill="#30b8d8">TCONS_00001452</text>
<text x="1066.5" y="1128" font-size="8.2" fill="#30c0c0">lncRNA_894</text>
<text x="1067.8" y="1114.5" font-size="8.2" fill="#30c0a0">lncRNA_596</text>
<text x="1074" y="1092.8" font-size="6" fill="#40c090">lncRNA_378</text>
<text x="1046.7" y="1083.2" font-size="7" fill="#40c070">lncRNA_2249</text>
<text x="1056.7" y="1070.8" font-size="7" fill="#60c060">lncRNA_2199</text>
<text x="1044" y="1055.3" font-size="7.5" fill="#a0c040">lncRNA_1965</text>
<text x="1023.7" y="1042" font-size="9" fill="#a8a830">lncRNA_1943</text>
<text x="1012" y="1024.8" font-size="6" fill="#c0b040">lncRNA_1309</text>
<text x="1005.3" y="1006" font-size="6" fill="#d8a050">lncRNA_1269</text>
<text x="989.7" y="986.1" font-size="6" fill="#e09080">lncRNA_1108</text>
</g>
<!-- PLA2 ring labels -->
<g font-size="8.3">
<text x="175" y="2.9" fill="#e8846c" transform="translate(990.7 1110.5) rotate(-90)">pbv-miR-216b-5p</text>
<text x="175" y="2.9" fill="#dc9a52" transform="translate(990.7 1110.5) rotate(-82.8)">novel368_mature</text>
<text x="175" y="2.9" fill="#d0a838" transform="translate(990.7 1110.5) rotate(-75.6)">pbv-miR-150-5p</text>
<text x="175" y="2.9" fill="#c4aa30" transform="translate(990.7 1110.5) rotate(-68.4)">novel19_star</text>
<text x="175" y="2.9" fill="#bcb028" transform="translate(990.7 1110.5) rotate(-61.2)">novel98_star</text>
<text x="175" y="2.9" fill="#b0b428" transform="translate(990.7 1110.5) rotate(-54)">novel98_star</text>
<text x="175" y="2.9" fill="#a4b830" transform="translate(990.7 1110.5) rotate(-46.8)">oha-miR-203-5p</text>
<text x="175" y="2.9" fill="#98bc30" transform="translate(990.7 1110.5) rotate(-39.6)">pbv-miR-153-5p</text>
<text x="175" y="2.9" fill="#80c040" transform="translate(990.7 1110.5) rotate(-32.4)">novel432_mature</text>
<text x="175" y="2.9" fill="#48c058" transform="translate(990.7 1110.5) rotate(-25.2)">oha-miR-301a-3p</text>
<text x="175" y="2.9" fill="#38c070" transform="translate(990.7 1110.5) rotate(-18)">oha-miR-301a-3p</text>
<text x="175" y="2.9" fill="#30c088" transform="translate(990.7 1110.5) rotate(-10.8)">novel72_star</text>
<text x="175" y="2.9" fill="#30c0a0" transform="translate(990.7 1110.5) rotate(-3.6)">oha-miR-203-5p</text>
<text x="175" y="2.9" fill="#30c0b0" transform="translate(990.7 1110.5) rotate(3.6)">oha-miR-205a-3p</text>
<text x="175" y="2.9" fill="#30bcc4" transform="translate(990.7 1110.5) rotate(10.8)">pbv-miR-150-5p</text>
<g fill="#38b8d8">
<text x="175" y="2.9" transform="translate(990.7 1110.5) rotate(18)">novel368_mature</text>
<text x="175" y="2.9" transform="translate(990.7 1110.5) rotate(25.2)">novel93_star</text>
<text x="175" y="2.9" transform="translate(990.7 1110.5) rotate(32.4)">oha-miR-203-5p</text>
<text x="175" y="2.9" transform="translate(990.7 1110.5) rotate(39.6)">oha-miR-205a-3p</text>
<text x="175" y="2.9" transform="translate(990.7 1110.5) rotate(46.8)">pbv-miR-153-5p</text>
<text x="175" y="2.9" transform="translate(990.7 1110.5) rotate(54)">pbv-miR-216b-5p</text>
<text x="175" y="2.9" transform="translate(990.7 1110.5) rotate(61.2)">novel432_mature</text>
</g>
<text x="175" y="2.9" fill="#40b0e0" transform="translate(990.7 1110.5) rotate(68.4)">pbv-let-7f-2-3p</text>
<g fill="#7ca4f2">
<text x="175" y="2.9" transform="translate(990.7 1110.5) rotate(75.6)">novel386_mature</text>
<text x="175" y="2.9" transform="translate(990.7 1110.5) rotate(82.8)">novel446_star</text>
<text x="-175" y="2.9" text-anchor="end" transform="translate(990.7 1110.5) rotate(-90)">novel48_star</text>
<text x="-175" y="2.9" text-anchor="end" transform="translate(990.7 1110.5) rotate(-82.8)">novel55_star</text>
<text x="-175" y="2.9" text-anchor="end" transform="translate(990.7 1110.5) rotate(-75.6)">novel72_star</text>
<text x="-175" y="2.9" text-anchor="end" transform="translate(990.7 1110.5) rotate(-68.4)">novel93_star</text>
<text x="-175" y="2.9" text-anchor="end" transform="translate(990.7 1110.5) rotate(-61.2)">oha-miR-205a-3p</text>
<text x="-175" y="2.9" text-anchor="end" transform="translate(990.7 1110.5) rotate(-54)">oha-miR-301a-3p</text>
<text x="-175" y="2.9" text-anchor="end" transform="translate(990.7 1110.5) rotate(-46.8)">pbv-miR-106-3p</text>
<text x="-175" y="2.9" text-anchor="end" transform="translate(990.7 1110.5) rotate(-39.6)">pbv-miR-153-5p</text>
<text x="-175" y="2.9" text-anchor="end" transform="translate(990.7 1110.5) rotate(-32.4)">pbv-miR-216b-5p</text>
<text x="-175" y="2.9" text-anchor="end" transform="translate(990.7 1110.5) rotate(-25.2)">pbv-miR-96-3p</text>
</g>
<g fill="#a898f0">
<text x="-175" y="2.9" text-anchor="end" transform="translate(990.7 1110.5) rotate(-18)">novel187_mature</text>
<text x="-175" y="2.9" text-anchor="end" transform="translate(990.7 1110.5) rotate(-10.8)">oha-miR-205a-3p</text>
<text x="-175" y="2.9" text-anchor="end" transform="translate(990.7 1110.5) rotate(-3.6)">pbv-let-7f-2-3p</text>
</g>
<text x="-175" y="2.9" text-anchor="end" fill="#c890ec" transform="translate(990.7 1110.5) rotate(3.6)">novel432_mature</text>
<g fill="#e070d0">
<text x="-175" y="2.9" text-anchor="end" transform="translate(990.7 1110.5) rotate(10.8)">novel368_mature</text>
<text x="-175" y="2.9" text-anchor="end" transform="translate(990.7 1110.5) rotate(18)">novel446_star</text>
<text x="-175" y="2.9" text-anchor="end" transform="translate(990.7 1110.5) rotate(25.2)">oha-miR-205a-3p</text>
<text x="-175" y="2.9" text-anchor="end" transform="translate(990.7 1110.5) rotate(32.4)">oha-miR-26-3-3p</text>
<text x="-175" y="2.9" text-anchor="end" transform="translate(990.7 1110.5) rotate(39.6)">pbv-miR-128-3p</text>
<text x="-175" y="2.9" text-anchor="end" transform="translate(990.7 1110.5) rotate(46.8)">pbv-miR-216b-5p</text>
<text x="-175" y="2.9" text-anchor="end" transform="translate(990.7 1110.5) rotate(54)">novel141_mature</text>
<text x="-175" y="2.9" text-anchor="end" transform="translate(990.7 1110.5) rotate(61.2)">novel386_mature</text>
<text x="-175" y="2.9" text-anchor="end" transform="translate(990.7 1110.5) rotate(68.4)">novel446_star</text>
<text x="-175" y="2.9" text-anchor="end" transform="translate(990.7 1110.5) rotate(75.6)">oha-miR-301a-3p</text>
<text x="-175" y="2.9" text-anchor="end" transform="translate(990.7 1110.5) rotate(82.8)">pbv-miR-216b-5p</text>
</g>
</g>

<!-- ===== PLI curtus network ===== -->
<circle cx="465.5" cy="1577.7" r="165" fill="#e4f4f2" stroke="#e2e2e2" stroke-width="7"/>
<g fill="none" stroke-width="0.9" opacity="0.85">
<g stroke="#6fd29a">
<path d="M510.7 1496.7Q571.4 1594.8 628.4 1604.1"/><path d="M510.7 1496.7Q564.9 1618 618.4 1639.7"/><path d="M510.7 1496.7Q553.5 1639.1 600.8 1672.1"/>
<path d="M510.7 1496.7Q366.1 1537.4 312.6 1515.7"/><path d="M510.7 1496.7Q377.5 1516.3 330.2 1483.3"/><path d="M510.7 1496.7Q393.4 1498.3 354.6 1455.6"/><path d="M510.7 1496.7Q412.9 1484.2 384.6 1433.9"/><path d="M510.7 1496.7Q435 1474.9 418.6 1419.5"/><path d="M510.7 1496.7Q458.7 1470.7 455 1413"/><path d="M510.7 1496.7Q482.6 1471.8 491.9 1414.8"/><path d="M510.7 1496.7Q505.8 1478.3 527.5 1424.8"/><path d="M510.7 1496.7Q526.9 1489.7 559.9 1442.4"/><path d="M510.7 1496.7Q544.9 1505.6 587.6 1466.8"/><path d="M510.7 1496.7Q559 1525.1 609.3 1496.8"/><path d="M510.7 1496.7Q568.3 1547.2 623.7 1530.8"/><path d="M510.7 1496.7Q572.5 1570.9 630.2 1567.2"/>
</g>
<g stroke="#92b8ee">
<path d="M422.7 1659.3Q537.6 1657.1 576.4 1699.8"/><path d="M422.7 1659.3Q518.1 1671.2 546.4 1721.5"/><path d="M422.7 1659.3Q496 1680.5 512.4 1735.9"/><path d="M422.7 1659.3Q472.3 1684.7 476 1742.4"/><path d="M422.7 1659.3Q448.4 1683.6 439.1 1740.6"/><path d="M422.7 1659.3Q425.2 1677.1 403.5 1730.6"/><path d="M422.7 1659.3Q404.1 1665.7 371.1 1713"/><path d="M422.7 1659.3Q386.1 1649.8 343.4 1688.6"/><path d="M422.7 1659.3Q372 1630.3 321.7 1658.6"/><path d="M422.7 1659.3Q362.7 1608.2 307.3 1624.6"/><path d="M422.7 1659.3Q358.5 1584.5 300.8 1588.2"/><path d="M422.7 1659.3Q359.6 1560.6 302.6 1551.3"/>
</g>
<path d="M510.7 1496.7L422.7 1659.3" stroke="#e08a8a"/>
</g>
<g fill-opacity="0.9">
<circle cx="506" cy="1505" r="28.5" fill="#a6dfe6"/>
<circle cx="466" cy="1577.7" r="35" fill="#dcafa6"/>
<circle cx="426.7" cy="1650.7" r="25.7" fill="#7ed2bb"/>
</g>
<g fill="#a3dce6" fill-opacity="0.9">
<circle cx="630.5" cy="1577.7" r="9" transform="rotate(9.2 465.5 1577.7)"/><circle cx="630.5" cy="1577.7" r="9" transform="rotate(22.06 465.5 1577.7)"/><circle cx="630.5" cy="1577.7" r="9" transform="rotate(34.91 465.5 1577.7)"/><circle cx="630.5" cy="1577.7" r="9" transform="rotate(202.06 465.5 1577.7)"/><circle cx="630.5" cy="1577.7" r="9" transform="rotate(214.91 465.5 1577.7)"/><circle cx="630.5" cy="1577.7" r="9" transform="rotate(227.77 465.5 1577.7)"/><circle cx="630.5" cy="1577.7" r="9" transform="rotate(240.63 465.5 1577.7)"/><circle cx="630.5" cy="1577.7" r="9" transform="rotate(253.49 465.5 1577.7)"/><circle cx="630.5" cy="1577.7" r="9" transform="rotate(266.34 465.5 1577.7)"/><circle cx="630.5" cy="1577.7" r="9" transform="rotate(279.2 465.5 1577.7)"/><circle cx="630.5" cy="1577.7" r="9" transform="rotate(292.06 465.5 1577.7)"/><circle cx="630.5" cy="1577.7" r="9" transform="rotate(304.91 465.5 1577.7)"/><circle cx="630.5" cy="1577.7" r="9" transform="rotate(317.77 465.5 1577.7)"/><circle cx="630.5" cy="1577.7" r="9" transform="rotate(330.63 465.5 1577.7)"/><circle cx="630.5" cy="1577.7" r="9" transform="rotate(343.49 465.5 1577.7)"/><circle cx="630.5" cy="1577.7" r="9" transform="rotate(356.34 465.5 1577.7)"/>
</g>
<g fill="#7acfb6" fill-opacity="0.9">
<circle cx="630.5" cy="1577.7" r="9" transform="rotate(47.77 465.5 1577.7)"/><circle cx="630.5" cy="1577.7" r="9" transform="rotate(60.63 465.5 1577.7)"/><circle cx="630.5" cy="1577.7" r="9" transform="rotate(73.49 465.5 1577.7)"/><circle cx="630.5" cy="1577.7" r="9" transform="rotate(86.34 465.5 1577.7)"/><circle cx="630.5" cy="1577.7" r="9" transform="rotate(99.2 465.5 1577.7)"/><circle cx="630.5" cy="1577.7" r="9" transform="rotate(112.06 465.5 1577.7)"/><circle cx="630.5" cy="1577.7" r="9" transform="rotate(124.91 465.5 1577.7)"/><circle cx="630.5" cy="1577.7" r="9" transform="rotate(137.77 465.5 1577.7)"/><circle cx="630.5" cy="1577.7" r="9" transform="rotate(150.63 465.5 1577.7)"/><circle cx="630.5" cy="1577.7" r="9" transform="rotate(163.49 465.5 1577.7)"/><circle cx="630.5" cy="1577.7" r="9" transform="rotate(176.34 465.5 1577.7)"/><circle cx="630.5" cy="1577.7" r="9" transform="rotate(189.2 465.5 1577.7)"/>
</g>
<g font-size="7.8">
<g fill="#6fcfe0">
<text x="181" y="2.7" transform="translate(465.5 1577.7) rotate(9.2)">lncRNA_758</text>
<text x="181" y="2.7" transform="translate(465.5 1577.7) rotate(22.06)">TCONS_00000529</text>
<text x="181" y="2.7" transform="translate(465.5 1577.7) rotate(34.91)">TCONS_00022508</text>
<text x="-181" y="2.7" text-anchor="end" transform="translate(465.5 1577.7) rotate(22.06)">lncRNA_1052</text>
<text x="-181" y="2.7" text-anchor="end" transform="translate(465.5 1577.7) rotate(34.91)">lncRNA_1389</text>
<text x="-181" y="2.7" text-anchor="end" transform="translate(465.5 1577.7) rotate(47.77)">lncRNA_2125</text>
<text x="-181" y="2.7" text-anchor="end" transform="translate(465.5 1577.7) rotate(60.63)">lncRNA_2149</text>
<text x="-181" y="2.7" text-anchor="end" transform="translate(465.5 1577.7) rotate(73.49)">lncRNA_30</text>
<text x="-181" y="2.7" text-anchor="end" transform="translate(465.5 1577.7) rotate(86.34)">lncRNA_355</text>
<text x="181" y="2.7" transform="translate(465.5 1577.7) rotate(-80.8)">lncRNA_380</text>
<text x="181" y="2.7" transform="translate(465.5 1577.7) rotate(-67.94)">lncRNA_381</text>
<text x="181" y="2.7" transform="translate(465.5 1577.7) rotate(-55.09)">lncRNA_388</text>
<text x="181" y="2.7" transform="translate(465.5 1577.7) rotate(-42.23)">lncRNA_393</text>
<text x="181" y="2.7" transform="translate(465.5 1577.7) rotate(-29.37)">lncRNA_410</text>
<text x="181" y="2.7" transform="translate(465.5 1577.7) rotate(-16.51)">lncRNA_478</text>
<text x="181" y="2.7" transform="translate(465.5 1577.7) rotate(-3.66)">lncRNA_563</text>
</g>
<g fill="#33b88f">
<text x="181" y="2.7" transform="translate(465.5 1577.7) rotate(47.77)">lncRNA_1369</text>
<text x="181" y="2.7" transform="translate(465.5 1577.7) rotate(60.63)">lncRNA_1448</text>
<text x="181" y="2.7" transform="translate(465.5 1577.7) rotate(73.49)">lncRNA_393</text>
<text x="181" y="2.7" transform="translate(465.5 1577.7) rotate(86.34)">lncRNA_410</text>
<text x="-181" y="2.7" text-anchor="end" transform="translate(465.5 1577.7) rotate(-80.8)">lncRNA_625</text>
<text x="-181" y="2.7" text-anchor="end" transform="translate(465.5 1577.7) rotate(-67.94)">lncRNA_68</text>
<text x="-181" y="2.7" text-anchor="end" transform="translate(465.5 1577.7) rotate(-55.09)">lncRNA_846</text>
<text x="-181" y="2.7" text-anchor="end" transform="translate(465.5 1577.7) rotate(-42.23)">TCONS_00002465</text>
<text x="-181" y="2.7" text-anchor="end" transform="translate(465.5 1577.7) rotate(-29.37)">TCONS_00021309</text>
<text x="-181" y="2.7" text-anchor="end" transform="translate(465.5 1577.7) rotate(-16.51)">TCONS_00021396</text>
<text x="-181" y="2.7" text-anchor="end" transform="translate(465.5 1577.7) rotate(-3.66)">TCONS_00024981</text>
<text x="-181" y="2.7" text-anchor="end" transform="translate(465.5 1577.7) rotate(9.2)">TCONS_00025061</text>
</g>
</g>
<g font-size="9" font-weight="bold" text-anchor="middle">
<text x="506" y="1508.2" fill="#47c0d4">novel129_mature</text>
<text x="466" y="1580.9" fill="#e0504a">Hh09T018735.1</text>
<text x="426.7" y="1654" fill="#22a67f">oha-miR-23a-3p</text>
</g>

<!-- ===== PLA2 curtus network ===== -->
<circle cx="1010" cy="1578" r="187" fill="#e4f4f2" stroke="#e2e2e2" stroke-width="10"/>
<g fill="none" stroke-width="1" opacity="0.85">
<path d="M1003 1582L923.8 1618.6" stroke="#e8a8a8"/>
<path d="M923.8 1618.6L838 1657.7" stroke="#a0c4f0"/>
<path d="M1014 1582L1088.7 1628.9" stroke="#80d080"/>
<path d="M1088.7 1628.9L1169 1672" stroke="#e8a0a0"/>
</g>
<circle cx="1010" cy="1579" r="40.5" fill="#dcb0a8"/>
<circle cx="923.8" cy="1618.6" r="10.5" fill="#7fd3bd"/>
<circle cx="1088.7" cy="1628.9" r="11" fill="#a8e0e8"/>
<circle cx="838" cy="1657.7" r="11" fill="#7acfb6" fill-opacity="0.9"/>
<circle cx="1169" cy="1672" r="10.5" fill="#a3dce6" fill-opacity="0.9"/>
<g font-weight="bold" text-anchor="middle" font-size="10.4">
<text x="1010" y="1582.8" fill="#d9534f">Hh11T019716.1</text>
<text x="924.5" y="1622.3" fill="#1ea57c">TCONS_00013462</text>
<text x="1089.5" y="1632.6" fill="#40c0d0">lncRNA_2078</text>
</g>
<g font-size="9.5">
<text x="-209" y="3.3" text-anchor="end" fill="#33b890" transform="translate(1010 1578) rotate(-24.9)">oha-miR-145-5p</text>
<text x="198" y="3.3" fill="#70d0e0" transform="translate(1010 1578) rotate(30.6)">oha-miR-145-5p</text>
</g>
</svg>
</body></html>
